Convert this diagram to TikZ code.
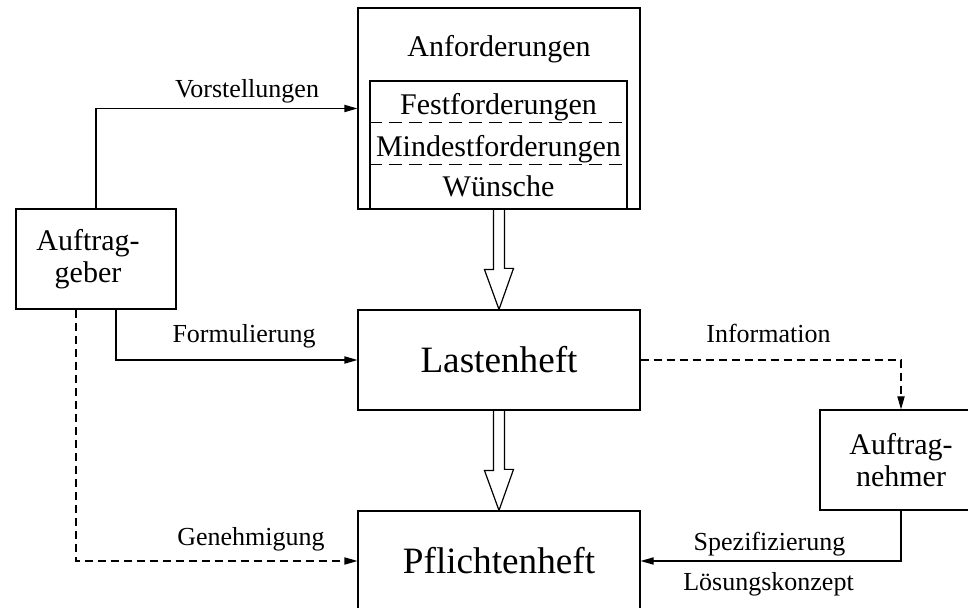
\documentclass[tikz,border=0pt]{standalone}
\usepackage{fontspec}
\setmainfont{Liberation Serif}
\usetikzlibrary{positioning,arrows.meta,calc}

\begin{document}
\begin{tikzpicture}[x=0.5pt,y=-0.5pt,line width=0.6pt,
    box/.style={draw,inner sep=0pt,align=center},
    klein/.style={font=\fontsize{13}{15}\selectfont,anchor=base},
    mittel/.style={font=\fontsize{15}{16}\selectfont},
    gross/.style={font=\fontsize{18.6}{20}\selectfont},
    pfeil/.style={-{Triangle[length=6.5pt,width=3.6pt]}},
    gestrichelt/.style={dash pattern=on 4pt off 2.5pt}]
  \useasboundingbox (0,0) rectangle (968,608);
  \clip (0,0) rectangle (968,608);
  % Anforderungen
  \node[box,minimum width=141pt,minimum height=100.5pt] (anf) at (499,108.5) {};
  \node[mittel,anchor=base] (anftitel) at (499,57) {Anforderungen};
  \node[box,minimum width=128.5pt,minimum height=64pt] (liste) at (498.5,145) {};
  \draw[dash pattern=on 6.5pt off 3.5pt] ($(liste.north west)+(0,42)$) -- ($(liste.north east)+(0,42)$);
  \draw[dash pattern=on 6.5pt off 3.5pt] ($(liste.north west)+(0,84)$) -- ($(liste.north east)+(0,84)$);
  \node[mittel,anchor=base] (fest) at (498.5,115) {Festforderungen};
  \node[mittel,anchor=base] (mindest) at (498.5,157) {Mindestforderungen};
  \node[mittel,anchor=base] (wunsch) at (498.5,197) {Wünsche};
  % Hefte und Beteiligte
  \node[box,gross,minimum width=141pt,minimum height=50pt] (last) at (499,360) {Lastenheft};
  \node[box,gross,minimum width=141pt,minimum height=50pt] (pfl) at (499,561) {Pflichtenheft};
  \node[box,mittel,minimum width=80pt,minimum height=50pt] (ag) at (96,259) {Auftrag-\hspace*{8pt}\\geber\hspace*{8pt}};
  \node[box,mittel,minimum width=81pt,minimum height=50pt] (an) at (901,460) {Auftrag-\\nehmer};
  % Hohlpfeile
  \draw ($(anf.south)+(-5.5,0)$) -- ++(0,60) -- ++(-9,0) -- (last.north) -- ++(14.5,-41) -- ++(-9,0) -- ($(anf.south)+(5.5,0)$);
  \draw ($(last.south)+(-5.5,0)$) -- ++(0,60) -- ++(-9,0) -- (pfl.north) -- ++(14.5,-41) -- ++(-9,0) -- ($(last.south)+(5.5,0)$);
  % Verbindungen
  \draw[pfeil] (ag.north) |- (anf.west);
  \draw[pfeil] ($(ag.south)+(20,0)$) |- (last.west);
  \draw[pfeil,gestrichelt] ($(ag.south)+(-20,0)$) |- (pfl.west);
  \draw[pfeil,gestrichelt] (last.east) -| (an.north);
  \draw[pfeil] (an.south) |- (pfl.east);
  % Beschriftungen
  \node[klein] (vorst) at (247,98) {Vorstellungen};
  \node[klein] (form) at (244,343) {Formulierung};
  \node[klein] (geneh) at (251,545) {Genehmigung};
  \node[klein] (info) at (768.5,343) {Information};
  \node[klein] (spez) at (769.5,550) {Spezifizierung};
  \node[klein] (loes) at (768.5,590) {Lösungskonzept};
\end{tikzpicture}
\end{document}
